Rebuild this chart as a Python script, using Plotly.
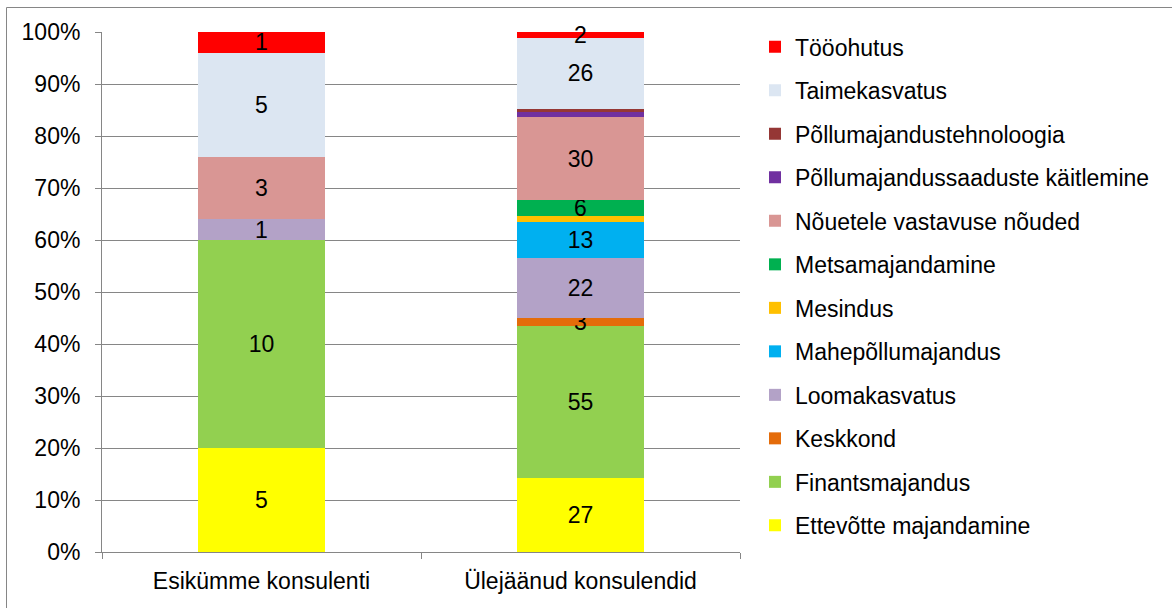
import plotly.graph_objects as go

categories = ["Esikümme konsulenti", "Ülejäänud konsulendid"]

series_names = [
    "Ettevõtte majandamine",
    "Finantsmajandus",
    "Keskkond",
    "Loomakasvatus",
    "Mahepõllumajandus",
    "Mesindus",
    "Metsamajandamine",
    "Nõuetele vastavuse nõuded",
    "Põllumajandussaaduste käitlemine",
    "Põllumajandustehnoloogia",
    "Taimekasvatus",
    "Tööohutus",
]

esikumme = [5, 10, 0, 1, 0, 0, 0, 3, 0, 0, 5, 1]
ulejaanud = [27, 55, 3, 22, 13, 2, 6, 30, 2, 1, 26, 2]

# series whose labels are not shown on the second bar
hidden_labels_2 = ["Mesindus", "Põllumajandussaaduste käitlemine", "Põllumajandustehnoloogia"]

colors = [
    "#FFFF00", "#92D050", "#E46C0A", "#B3A2C7", "#00B0F0", "#FFC000",
    "#00B050", "#D99694", "#7030A0", "#953735", "#DCE6F2", "#FF0000",
]

FONT = "Liberation Sans, Arial, sans-serif"
FS = 23

fig = go.Figure()
n = len(series_names)
for i, name in enumerate(series_names):
    vals = [esikumme[i], ulejaanud[i]]
    texts = []
    for j, v in enumerate(vals):
        if v == 0 or (j == 1 and name in hidden_labels_2):
            texts.append("")
        else:
            texts.append(str(v))
    fig.add_trace(go.Bar(
        x=categories, y=vals, name=name,
        marker=dict(color=colors[i], line=dict(width=0)),
        text=texts, texttemplate="%{text}",
        textposition="inside", insidetextanchor="middle",
        textangle=0, constraintext="none",
        textfont=dict(family=FONT, size=FS, color="black"),
        cliponaxis=False,
        legendgroup=name,
        legendrank=n - i,
    ))

# plot area pixels
L, R, T, B = 102, 740, 32, 552
W, H = R - L, B - T

def px_x(p):
    return (p - L) / W

def px_y(p):
    return (B - p) / H

fig.update_layout(
    width=1172, height=608,
    barmode="stack", barnorm="percent", bargap=0.6,
    paper_bgcolor="white", plot_bgcolor="white",
    margin=dict(l=L, r=1172 - R, t=T, b=608 - B),
    font=dict(family=FONT, size=FS, color="black"),
    showlegend=True,
    legend=dict(
        traceorder="grouped",
        tracegroupgap=10.6,
        maxheight=580,
        x=px_x(755), xanchor="left",
        y=px_y(25.4), yanchor="top",
        font=dict(family=FONT, size=FS, color="black"),
        bgcolor="rgba(0,0,0,0)",
    ),
    xaxis=dict(
        showline=True, linecolor="#868686", linewidth=1,
        ticks="outside", tickson="boundaries", ticklen=6, tickcolor="#868686",
        ticklabelstandoff=8,
        tickfont=dict(family=FONT, size=FS, color="black"),
        showgrid=False,
    ),
    yaxis=dict(
        range=[0, 100], dtick=10, ticksuffix="%",
        showline=True, linecolor="#868686", linewidth=1,
        ticks="outside", ticklen=6, tickcolor="#868686",
        ticklabelstandoff=10,
        showgrid=True, gridcolor="#868686", gridwidth=1,
        zeroline=False,
        tickfont=dict(family=FONT, size=FS, color="black"),
    ),
    shapes=[dict(
        type="rect", xref="paper", yref="paper",
        x0=px_x(6.5), x1=px_x(1190), y0=px_y(7.5), y1=px_y(630),
        line=dict(color="#868686", width=1), fillcolor="rgba(0,0,0,0)",
        layer="below",
    )],
)

fig.write_html(
    "out.html",
    config={"displayModeBar": False},
    post_script="document.body.style.margin='0px';document.body.style.overflow='hidden';",
)
